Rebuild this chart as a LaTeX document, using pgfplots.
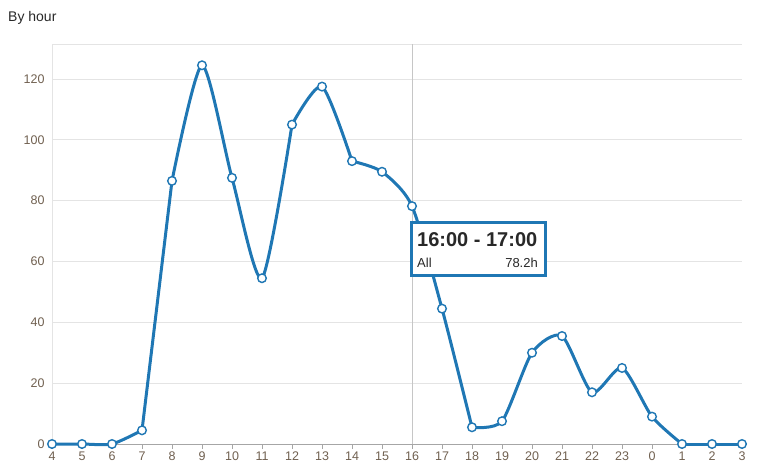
\documentclass[border=0pt]{standalone}
\usepackage{pgfplots}
\usepackage{pgfplotstable}
\pgfplotsset{compat=1.18}
\usepackage{fontspec}
\setmainfont{Liberation Sans}
\definecolor{lineblue}{RGB}{31,119,180}
\definecolor{ticklab}{RGB}{112,96,80}
\definecolor{gridc}{RGB}{228,228,228}
\definecolor{txt}{RGB}{40,40,40}
\pgfplotstableread{
idx hour hours
0 4 0
1 5 0
2 6 0
3 7 4.5
4 8 86.5
5 9 124.5
6 10 87.5
7 11 54.5
8 12 105
9 13 117.5
10 14 93
11 15 89.5
12 16 78.2
13 17 44.5
14 18 5.5
15 19 7.5
16 20 30
17 21 35.5
18 22 17
19 23 25
20 0 9
21 1 0
22 2 0
23 3 0
}\hourdata
\begin{document}
\begin{tikzpicture}[x=1pt,y=1pt]
\path[use as bounding box] (0,0) rectangle (759,474);
\node[anchor=base west, font=\fontsize{14}{16}\selectfont, text=txt, inner sep=0] at (8,452) {By hour};
\begin{axis}[
  at={(52pt,30pt)}, anchor=south west,
  scale only axis, width=690pt, height=400pt,
  xmin=0, xmax=23, ymin=0, ymax=131.5,
  axis x line*=bottom, axis y line*=left,
  x axis line style={draw=gray!70, line width=0.8pt},
  y axis line style={draw=gridc, line width=0.8pt},
  xtick={0,...,23},
  xticklabels={4,5,6,7,8,9,10,11,12,13,14,15,16,17,18,19,20,21,22,23,0,1,2,3},
  ytick={0,20,40,60,80,100,120},
  ymajorgrids, grid style={draw=gridc, line width=0.8pt},
  tick align=outside, major tick length=5pt,
  xtick style={draw=gray!70, line width=0.8pt},
  ytick style={draw=none},
  ticklabel style={font=\fontsize{12.5}{14}\selectfont, text=ticklab},
  xticklabel style={yshift=1pt},
  yticklabel style={xshift=1pt},
  /pgf/number format/assume math mode=true,
  clip=false,
  curve/.style={lineblue, line width=3pt, smooth, tension=0.42, no marks, line join=round},
]
\draw[gridc, line width=0.8pt] (axis cs:0,131.5) -- (axis cs:23,131.5);
\draw[gray!45, line width=0.8pt] (axis cs:12,0) -- (axis cs:12,131.5);
\addplot[curve, restrict x to domain=0:3] table[x=idx, y=hours] {\hourdata};
\addplot[curve, restrict x to domain=3:4] table[x=idx, y=hours] {\hourdata};
\addplot[curve, restrict x to domain=4:8] table[x=idx, y=hours] {\hourdata};
\addplot[curve, restrict x to domain=8:10] table[x=idx, y=hours] {\hourdata};
\addplot[curve, restrict x to domain=10:14] table[x=idx, y=hours] {\hourdata};
\addplot[curve, restrict x to domain=14:21] table[x=idx, y=hours] {\hourdata};
\addplot[curve, restrict x to domain=21:23] table[x=idx, y=hours] {\hourdata};
\addplot[only marks, mark=*, mark size=4.3pt,
  mark options={fill=white, draw=lineblue, line width=1.4pt}]
  table[x=idx, y=hours] {\hourdata};
\end{axis}
\draw[lineblue, line width=3pt, fill=white] (411,251) rectangle (545,198);
\node[anchor=base west, inner sep=0, text=txt, font=\bfseries\fontsize{20}{22}\selectfont] at (417,227) {16:00 - 17:00};
\node[anchor=base west, inner sep=0, text=txt, font=\fontsize{13}{15}\selectfont] at (417,206) {All};
\node[anchor=base east, inner sep=0, text=txt, font=\fontsize{13}{15}\selectfont] at (538,206) {78.2h};
\end{tikzpicture}
\end{document}
